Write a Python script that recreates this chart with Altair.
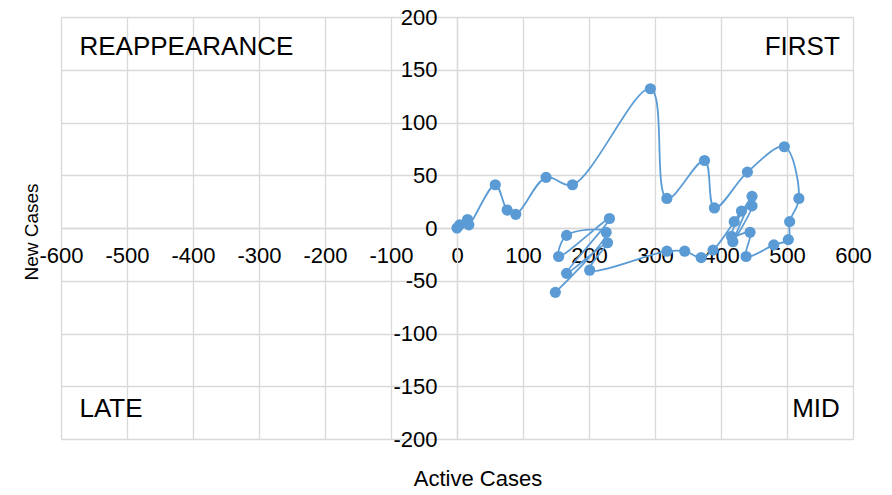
import altair as alt
import pandas as pd

# Path of (active cases, new cases) in time order
active = [0, 4, 16, 18, 58, 76, 89, 135, 175, 293, 318, 375, 390, 440, 496, 518,
          504, 502, 480, 438, 444, 416, 447, 418, 447, 431, 420, 388, 370, 345,
          318, 201, 228, 166, 231, 154, 166, 226, 149]
new_cases = [0, 3, 8, 3, 41, 17, 13, 48, 41, 132, 28, 64, 19, 53, 77, 28,
             6, -11, -16, -27, -4, -8, 30, -13, 21, 16, 6, -21, -28, -22,
             -22, -40, -14, -43, 9, -27, -7, -4, -61]

x_ticks = [-600, -500, -400, -300, -200, -100, 0, 100, 200, 300, 400, 500, 600]
y_ticks = [-200, -150, -100, -50, 0, 50, 100, 150, 200]

left_labels = ["REAPPEARANCE", "LATE"]
left_x = [-572, -572]
left_y = [172, -172]
right_labels = ["FIRST", "MID"]
right_x = [580, 580]
right_y = [172, -172]

W, H = 792, 422
FONT = "Liberation Sans"
GRID = "#d9d9d9"
BLUE = "#5b9bd5"

df = pd.DataFrame({"x": active, "y": new_cases, "i": list(range(len(active)))})
ldf = pd.DataFrame({"label": left_labels, "x": left_x, "y": left_y})
rdf = pd.DataFrame({"label": right_labels, "x": right_x, "y": right_y})

xscale = alt.Scale(domain=[-600, 600], nice=False, zero=False)
yscale = alt.Scale(domain=[-200, 200], nice=False, zero=False)

xaxis = alt.Axis(values=x_ticks, offset=-H / 2, grid=True, gridColor=GRID, gridWidth=1.3,
                 domainColor=GRID, domainWidth=1.3, ticks=False, labelPadding=17,
                 labelFont=FONT, labelFontSize=22, labelColor="#000000", title=None,
                 labelFlush=False, labelOverlap=False,
                 labelExpr="toString(datum.value)")
yaxis = alt.Axis(values=y_ticks, offset=-W / 2, grid=True, gridColor=GRID, gridWidth=1.3,
                 domainColor=GRID, domainWidth=1.3, ticks=False, labelPadding=20,
                 labelFont=FONT, labelFontSize=22, labelColor="#000000", title=None,
                 labelFlush=False, labelOverlap=False,
                 labelExpr="toString(datum.value)")

line = alt.Chart(df).mark_line(interpolate="catmull-rom", color=BLUE, strokeWidth=1.8).encode(
    x=alt.X("x:Q", scale=xscale, axis=xaxis),
    y=alt.Y("y:Q", scale=yscale, axis=yaxis),
    order="i:O",
)
points = alt.Chart(df).mark_circle(color=BLUE, size=125, opacity=1).encode(
    x=alt.X("x:Q", scale=xscale),
    y=alt.Y("y:Q", scale=yscale),
)

qleft = alt.Chart(ldf).mark_text(font=FONT, fontSize=26, color="#000000", baseline="middle",
                                 align="left").encode(
    x=alt.X("x:Q", scale=xscale),
    y=alt.Y("y:Q", scale=yscale),
    text="label:N",
)
qright = alt.Chart(rdf).mark_text(font=FONT, fontSize=26, color="#000000", baseline="middle",
                                  align="right").encode(
    x=alt.X("x:Q", scale=xscale),
    y=alt.Y("y:Q", scale=yscale),
    text="label:N",
)

ytitle = alt.Chart(pd.DataFrame({"t": ["New Cases"]})).mark_text(
    font=FONT, fontSize=19, color="#000000", angle=270, baseline="middle", align="center"
).encode(x=alt.value(-29), y=alt.value(215), text="t:N")

xtitle = alt.Chart(pd.DataFrame({"t": ["Active Cases"]})).mark_text(
    font=FONT, fontSize=22, color="#000000", baseline="middle", align="center"
).encode(x=alt.value(417), y=alt.value(462), text="t:N")

chart = alt.layer(line, points, qleft, qright, ytitle, xtitle).properties(
    width=W, height=H,
    autosize=alt.AutoSizeParams(type="none"),
    padding={"left": 53, "top": 9, "right": 30, "bottom": 54},
).configure_view(stroke=None)

chart.save("out.html", embed_options={"renderer": "svg", "actions": False})
